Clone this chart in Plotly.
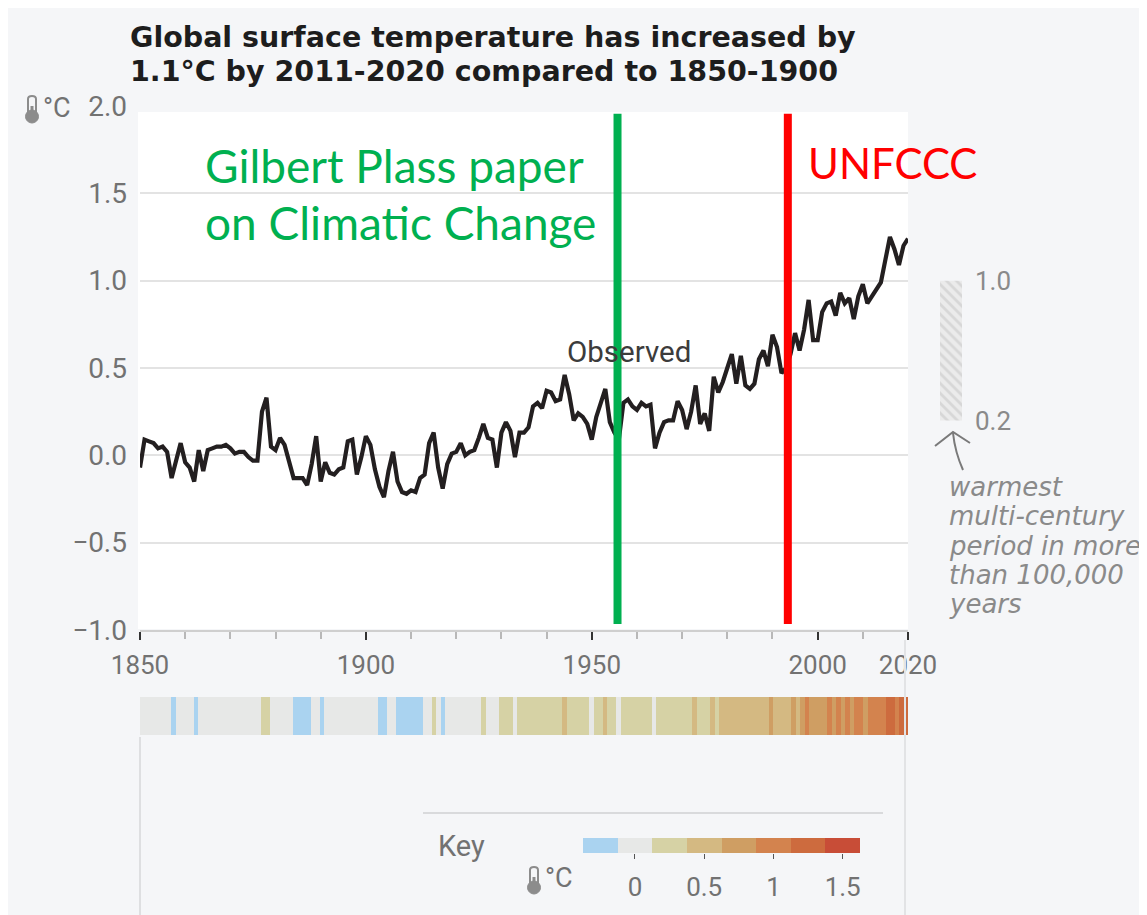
import plotly.graph_objects as go

W, H = 1147, 915
OFF = 8  # the page body offsets the figure by 8px; compensate

def px(x):
    return (x - OFF) / W
def py(y):
    return 1 - (y - OFF) / H

# ---------------- data ----------------
years = list(range(1850, 2021))
temps = [
    -0.07, 0.09, 0.08, 0.07, 0.04, 0.05, 0.02, -0.13, -0.03, 0.07,   # 1850-1859
    -0.04, -0.07, -0.15, 0.03, -0.09, 0.03, 0.04, 0.05, 0.05, 0.06,  # 1860-1869
    0.04, 0.01, 0.02, 0.02, -0.01, -0.03, -0.03, 0.25, 0.33, 0.05,   # 1870-1879
    0.03, 0.10, 0.06, -0.04, -0.13, -0.13, -0.13, -0.17, -0.05, 0.11,  # 1880-1889
    -0.15, -0.04, -0.10, -0.11, -0.08, -0.07, 0.08, 0.09, -0.11, -0.01,  # 1890-1899
    0.11, 0.06, -0.08, -0.18, -0.24, -0.09, 0.02, -0.15, -0.21, -0.22,  # 1900-1909
    -0.20, -0.21, -0.13, -0.11, 0.07, 0.13, -0.07, -0.19, -0.05, 0.01,  # 1910-1919
    0.02, 0.07, 0.00, 0.02, 0.03, 0.10, 0.18, 0.10, 0.09, -0.07,     # 1920-1929
    0.13, 0.19, 0.14, -0.01, 0.13, 0.13, 0.16, 0.28, 0.30, 0.27,     # 1930-1939
    0.37, 0.36, 0.31, 0.32, 0.46, 0.35, 0.20, 0.24, 0.22, 0.18,      # 1940-1949
    0.09, 0.22, 0.30, 0.38, 0.19, 0.13, 0.09, 0.30, 0.32, 0.28,      # 1950-1959
    0.26, 0.30, 0.28, 0.29, 0.04, 0.13, 0.19, 0.20, 0.20, 0.31,      # 1960-1969
    0.26, 0.15, 0.25, 0.40, 0.18, 0.24, 0.14, 0.45, 0.36, 0.42,      # 1970-1979
    0.50, 0.58, 0.41, 0.57, 0.40, 0.38, 0.41, 0.55, 0.60, 0.51,      # 1980-1989
    0.69, 0.62, 0.47, 0.50, 0.58, 0.70, 0.60, 0.72, 0.89, 0.66,      # 1990-1999
    0.66, 0.82, 0.87, 0.88, 0.80, 0.93, 0.87, 0.90, 0.78, 0.91,      # 2000-2009
    0.98, 0.87, 0.91, 0.95, 0.99, 1.12, 1.25, 1.18, 1.09, 1.20,      # 2010-2019
    1.24,                                                            # 2020
]

x_ticks = [1850, 1900, 1950, 2000, 2020]
y_ticks = [-1.0, -0.5, 0.0, 0.5, 1.0, 1.5, 2.0]

key_values = [-0.25, 0.0, 0.25, 0.5, 0.75, 1.0, 1.25, 1.5]
key_ticks = [0, 0.5, 1, 1.5]
key_ticktext = ["0", "0.5", "1", "1.5"]
key_colors = ["#aad3f0", "#e7e8e7", "#d6d2a5", "#d4b982", "#cf9e63",
              "#d3834e", "#cd6b3e", "#c84d37"]

warm_range = [0.2, 1.0]          # warmest multi-century period range
plass_year = 1955.7              # Gilbert Plass paper
unfccc_year = 1993.4             # UNFCCC

title_lines = ["Global surface temperature has increased by",
               "1.1°C by 2011-2020 compared to 1850-1900"]
note_lines = ["warmest", "multi-century", "period in more", "than 100,000", "years"]

# discrete colourscale from the key colours
n = len(key_colors)
colorscale = []
for i, c in enumerate(key_colors):
    colorscale.append([i / n, c])
    colorscale.append([(i + 1) / n, c])
zmin, zmax = -0.375, 1.625

PAGE = "#f5f6f8"
GRAY_TXT = "#727272"
TICKFONT = "Roboto, sans-serif"

fig = go.Figure()

fig.add_trace(go.Scatter(
    x=years, y=temps, mode="lines",
    line=dict(color="#231f20", width=4.2),
    xaxis="x", yaxis="y", showlegend=False, hoverinfo="skip"))

fig.add_trace(go.Heatmap(
    z=[temps], x=years, y=[0], xaxis="x3", yaxis="y3",
    colorscale=colorscale, zmin=zmin, zmax=zmax, showscale=False,
    hoverinfo="skip"))

fig.add_trace(go.Heatmap(
    z=[key_values], x=key_values, y=[0], xaxis="x4", yaxis="y4",
    colorscale=colorscale, zmin=zmin, zmax=zmax, showscale=False,
    hoverinfo="skip"))

fig.add_trace(go.Bar(
    x=[0], y=[warm_range[1] - warm_range[0]], base=[warm_range[0]], width=[1],
    xaxis="x2", yaxis="y5", showlegend=False, hoverinfo="skip",
    marker=dict(color="#ebebeb", line_width=0,
                pattern=dict(shape="\\", fgcolor="#c4c4c4", bgcolor="#ebebeb",
                             size=7, solidity=0.4))))

shapes = []
# white plot area
shapes.append(dict(type="rect", xref="paper", yref="paper", x0=px(138), x1=px(908),
                   y0=py(629), y1=py(112), fillcolor="white", line_width=0, layer="below"))
# bottom panel borders
shapes.append(dict(type="line", xref="paper", yref="paper", x0=px(140), x1=px(140),
                   y0=0, y1=py(737), line=dict(color="#dedfe1", width=2)))
shapes.append(dict(type="line", xref="paper", yref="paper", x0=px(905), x1=px(905),
                   y0=0, y1=py(640), line=dict(color="#e2e3e5", width=2)))
shapes.append(dict(type="line", xref="paper", yref="paper", x0=px(423), x1=px(883),
                   y0=py(813), y1=py(813), line=dict(color="#d9dadc", width=2)))
# event lines
shapes.append(dict(type="line", xref="x", yref="y", x0=plass_year, x1=plass_year,
                   y0=-0.965, y1=1.955, line=dict(color="#00b050", width=8), layer="above"))
shapes.append(dict(type="line", xref="x", yref="y", x0=unfccc_year, x1=unfccc_year,
                   y0=-0.965, y1=1.955, line=dict(color="#ff0000", width=8), layer="above"))

# thermometer icons
def thermometer(cx, top, bottom):
    out = []
    out.append(dict(type="path", xref="paper", yref="paper",
                    path=(f"M {px(cx-4):.5f},{py(bottom):.5f} L {px(cx-4):.5f},{py(top+3):.5f} "
                          f"Q {px(cx-4):.5f},{py(top):.5f} {px(cx):.5f},{py(top):.5f} "
                          f"Q {px(cx+4):.5f},{py(top):.5f} {px(cx+4):.5f},{py(top+3):.5f} "
                          f"L {px(cx+4):.5f},{py(bottom):.5f}"),
                    line=dict(color="#8c8c8c", width=2)))
    out.append(dict(type="circle", xref="paper", yref="paper",
                    x0=px(cx - 6.5), x1=px(cx + 6.5), y0=py(bottom + 9), y1=py(bottom - 4),
                    fillcolor="#8c8c8c", line=dict(color="#8c8c8c", width=1)))
    out.append(dict(type="rect", xref="paper", yref="paper",
                    x0=px(cx - 1.5), x1=px(cx + 1.5), y0=py(bottom), y1=py(top + 10),
                    fillcolor="#8c8c8c", line_width=0))
    return out

shapes += thermometer(32, 96, 114)
shapes += thermometer(534, 867, 885)

# arrow near warm range bar
def pth(points):
    s = ""
    for i, (a, b) in enumerate(points):
        s += ("M " if i == 0 else " L ") + f"{px(a):.5f},{py(b):.5f}"
    return s
shapes.append(dict(type="path", xref="paper", yref="paper",
                   path=f"M {px(953):.5f},{py(433):.5f} Q {px(955):.5f},{py(452):.5f} {px(963):.5f},{py(470):.5f}",
                   line=dict(color="#7a7a7a", width=2)))
shapes.append(dict(type="path", xref="paper", yref="paper",
                   path=pth([(935, 446), (953, 432), (970, 443)]),
                   line=dict(color="#7a7a7a", width=2)))

annotations = []
TITLE_FONT = dict(family="DejaVu Sans, sans-serif", size=28.5, color="#1d1d1d")
for i, t in enumerate(title_lines):
    annotations.append(dict(xref="paper", yref="paper", x=px(128), y=py(37 + 35 * i),
                            xanchor="left", yanchor="middle", showarrow=False,
                            text=f"<b>{t}</b>", font=TITLE_FONT))
annotations.append(dict(xref="paper", yref="paper", x=px(41), y=py(108), xanchor="left",
                        yanchor="middle", showarrow=False, text="°C",
                        font=dict(family=TICKFONT, size=27, color=GRAY_TXT)))
annotations.append(dict(xref="paper", yref="paper", x=px(543), y=py(878), xanchor="left",
                        yanchor="middle", showarrow=False, text="°C",
                        font=dict(family=TICKFONT, size=27, color=GRAY_TXT)))
annotations.append(dict(xref="paper", yref="paper", x=px(436), y=py(846), xanchor="left",
                        yanchor="middle", showarrow=False, text="Key",
                        font=dict(family=TICKFONT, size=29, color=GRAY_TXT)))
annotations.append(dict(xref="x", yref="y", x=1958.2, y=0.59, xanchor="center",
                        yanchor="middle", showarrow=False, text="Observed",
                        font=dict(family=TICKFONT, size=29.5, color="#3c3c3c")))
PLASS_FONT = dict(family="Lato, sans-serif", size=46, color="#00b050")
annotations.append(dict(xref="paper", yref="paper", x=px(203), y=py(165), xanchor="left",
                        yanchor="middle", showarrow=False, text="Gilbert Plass paper",
                        font=PLASS_FONT))
annotations.append(dict(xref="paper", yref="paper", x=px(203), y=py(222), xanchor="left",
                        yanchor="middle", showarrow=False, text="on Climatic Change",
                        font=PLASS_FONT))
annotations.append(dict(xref="paper", yref="paper", x=px(806), y=py(163), xanchor="left",
                        yanchor="middle", showarrow=False, text="UNFCCC",
                        font=dict(family="Lato, sans-serif", size=42, color="#ff0000")))
for i, t in enumerate(note_lines):
    annotations.append(dict(xref="paper", yref="paper", x=px(947), y=py(487 + 29.3 * i),
                            xanchor="left", yanchor="middle", showarrow=False,
                            text=f"<i>{t}</i>",
                            font=dict(family="DejaVu Sans, sans-serif", size=26, color="#8a8a8a")))

fig.update_layout(
    width=W, height=H,
    margin=dict(l=0, r=0, t=0, b=0, pad=0, autoexpand=False),
    paper_bgcolor=PAGE,
    plot_bgcolor=PAGE,
    showlegend=False,
    shapes=shapes,
    annotations=annotations,
    xaxis=dict(domain=[px(140), px(908)], range=[1850, 2020], anchor="y", automargin=False,
               tickvals=x_ticks, ticks="outside", ticklen=8, tickwidth=2, tickcolor="#333333",
               showline=True, linecolor="#cfcfcf", linewidth=1.5,
               showgrid=False, zeroline=False, ticklabelstandoff=3,
               minor=dict(tick0=1850, dtick=10, ticks="outside", ticklen=7,
                          tickwidth=1.5, tickcolor="#b8b8b8", showgrid=False),
               tickfont=dict(family=TICKFONT, size=26, color=GRAY_TXT)),
    yaxis=dict(domain=[py(630), py(106)], range=[-1, 2], anchor="x", automargin=False,
               tickvals=y_ticks, tickformat=".1f", ticks="",
               showgrid=True, gridcolor="#e3e3e3", gridwidth=1.5,
               zeroline=False, showline=False, ticklabelstandoff=12,
               tickfont=dict(family=TICKFONT, size=28, color=GRAY_TXT)),
    xaxis2=dict(domain=[px(940), px(962)], range=[-0.5, 0.5], anchor="y5", visible=False,
                automargin=False),
    yaxis5=dict(domain=[py(630), py(106)], range=[-1, 2], anchor="x2", side="right",
                automargin=False,
                tickvals=warm_range, ticktext=["0.2", "1.0"], ticks="",
                showgrid=False, zeroline=False, showline=False, ticklabelstandoff=12,
                tickfont=dict(family=TICKFONT, size=26, color="#8a8a8a")),
    xaxis3=dict(domain=[px(140), px(908)], range=[1849.5, 2020.5], anchor="y3", visible=False,
                automargin=False),
    yaxis3=dict(domain=[py(735), py(697)], range=[-0.5, 0.5], anchor="x3", visible=False,
                automargin=False),
    xaxis4=dict(domain=[px(583), px(860)], range=[zmin, zmax], anchor="y4", automargin=False,
                tickvals=key_ticks, ticktext=key_ticktext, ticks="outside", ticklen=5,
                tickcolor="#555555", showgrid=False, zeroline=False, showline=False,
                ticklabelstandoff=6,
                tickfont=dict(family=TICKFONT, size=26, color=GRAY_TXT)),
    yaxis4=dict(domain=[py(853), py(838)], range=[-0.5, 0.5], anchor="x4", visible=False,
                automargin=False),
)

fig.write_html("out.html")
